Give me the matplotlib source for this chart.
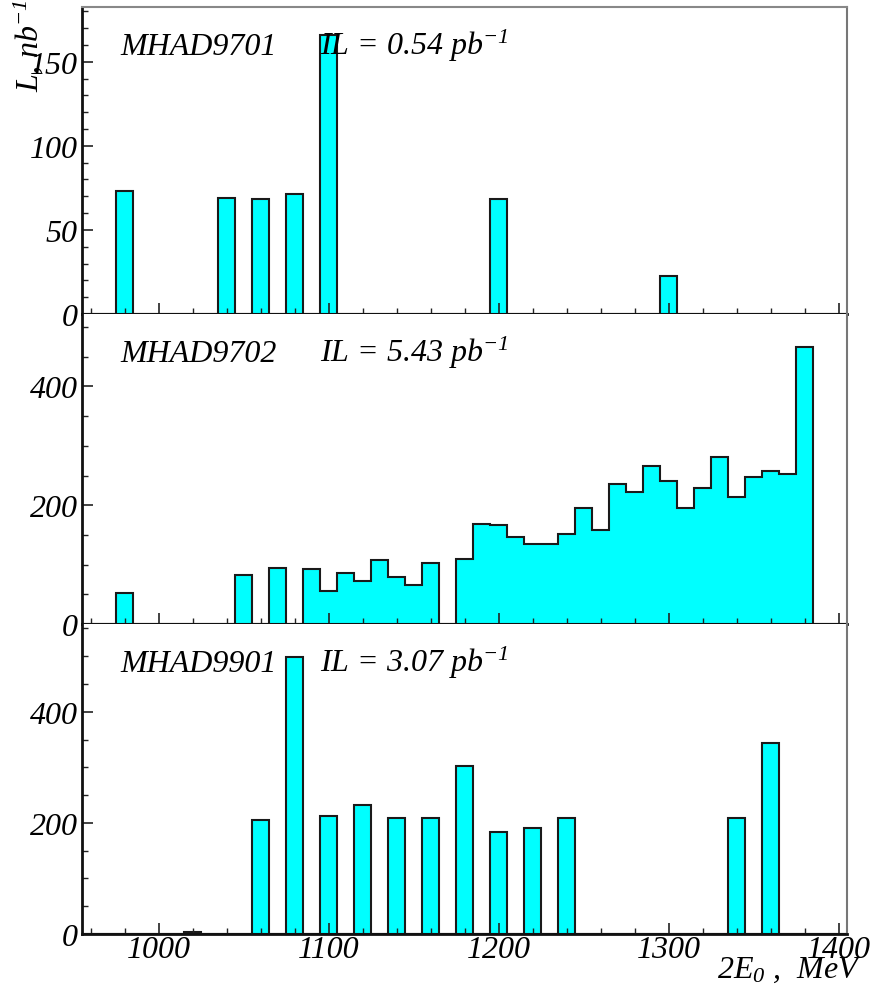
import matplotlib
matplotlib.use("Agg")
import matplotlib.pyplot as plt
import numpy as np
from matplotlib.ticker import MultipleLocator

plt.rcParams["font.family"] = "Liberation Serif"
plt.rcParams["font.style"] = "italic"
plt.rcParams["mathtext.fontset"] = "custom"
plt.rcParams["mathtext.rm"] = "Liberation Serif:italic"
plt.rcParams["mathtext.it"] = "Liberation Serif:italic"

# 10 MeV bins over 2E0, bin centres on multiples of 10
bin_edges = np.arange(955, 1406, 10)

# MHAD9701 luminosity per energy point, nb^-1
e_9701 = [980, 1040, 1060, 1080, 1100, 1200, 1300]
lum_9701 = [73, 69, 68.5, 71.5, 166, 68.5, 22.5]

# MHAD9702
e_9702 = [980, 1050, 1070,
          1090, 1100, 1110, 1120, 1130, 1140, 1150, 1160,
          1180, 1190, 1200, 1210, 1220, 1230, 1240, 1250, 1260, 1270,
          1280, 1290, 1300, 1310, 1320, 1330, 1340, 1350, 1360, 1370, 1380]
lum_9702 = [53, 83, 95,
            92, 56, 86, 73, 108, 79, 66, 103,
            110, 168, 167, 146, 134, 135, 151, 196, 159, 235,
            223, 266, 240, 196, 229, 282, 214, 247, 257, 253, 466]

# MHAD9901
e_9901 = [1020, 1060, 1080, 1100, 1120, 1140, 1160, 1180, 1200, 1220, 1240, 1340, 1360]
lum_9901 = [3, 205, 499, 212, 233, 209, 208, 303, 184, 191, 208, 208, 343]

runs = [
    ("MHAD9701", "0.54", e_9701, lum_9701, 182.6, 50, 10),
    ("MHAD9702", "5.43", e_9702, lum_9702, 522, 200, 50),
    ("MHAD9901", "3.07", e_9901, lum_9901, 558, 200, 50),
]

W, H = 881, 987
FS = 23
fig = plt.figure(figsize=(W / 100, H / 100), dpi=100)
left, right = 82 / W, 847 / W
panels_px = [(8, 315), (315, 625), (625, 935)]

for i, ((name, il, e, lum, ymax, major, minor), (ytop, ybot)) in enumerate(zip(runs, panels_px)):
    ax = fig.add_axes([left, 1 - ybot / H, right - left, (ybot - ytop) / H])
    ax.hist(e, bins=bin_edges, weights=lum, histtype="stepfilled",
            facecolor="#00ffff", edgecolor="#1a1a1a", lw=1.5)
    ax.set_xlim(955, 1405)
    ax.set_ylim(0, ymax)

    ax.xaxis.set_major_locator(MultipleLocator(100))
    ax.xaxis.set_minor_locator(MultipleLocator(20))
    ax.yaxis.set_major_locator(MultipleLocator(major))
    ax.yaxis.set_minor_locator(MultipleLocator(minor))
    ax.tick_params(which="both", direction="in", top=False, right=False,
                   labelsize=FS, color="#222222")
    ax.tick_params(which="major", length=8, width=1.2)
    ax.tick_params(which="minor", length=4, width=1.0)
    ax.tick_params(axis="y", pad=3)
    ax.tick_params(axis="x", pad=1)
    if i < 2:
        ax.tick_params(axis="x", labelbottom=False)

    for side in ("left", "bottom"):
        ax.spines[side].set_color("#111111")
        ax.spines[side].set_linewidth(2.0)
    ax.spines["right"].set_color("#777777")
    ax.spines["right"].set_linewidth(1.5)
    if i == 0:
        ax.spines["top"].set_color("#888888")
        ax.spines["top"].set_linewidth(1.5)
    else:
        ax.spines["top"].set_visible(False)

    ax.text(0.05, 0.848, name, transform=ax.transAxes, fontsize=FS,
            ha="left", va="baseline")
    ax.text(0.311, 0.848, f"IL = {il} pb$^{{-1}}$", transform=ax.transAxes,
            fontsize=FS, ha="left", va="baseline")

fig.text(28 / W, 1 - 92 / H, "L, nb$^{-1}$", rotation=90, fontsize=FS,
         ha="center", va="bottom")
fig.text(862 / W, 1 - 978 / H, "2E$_0$ ,  MeV", fontsize=FS,
         ha="right", va="baseline")

fig.savefig("out.png", dpi=100)
